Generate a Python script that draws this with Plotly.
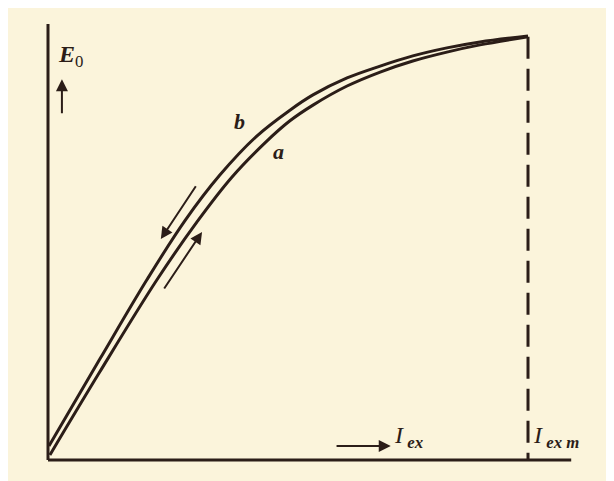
import plotly.graph_objects as go

# Excitation current (relative, % of I_ex m) and EMF E0 (relative, %)
iex_b = [0.2, 10.8, 20.6, 28.5, 35.8, 43.5, 50.4, 55.2, 62.3, 69.2, 76.0, 83.1, 90.0, 100]
e0_b = [3.3, 23.8, 42.5, 56.4, 67.2, 76.4, 82.5, 86.1, 90.1, 92.9, 95.3, 97.2, 98.6, 100]
iex_a = [0.4, 10.8, 22.7, 31.0, 38.3, 45.2, 50.4, 55.2, 62.3, 69.2, 76.0, 83.1, 90.0, 100]
e0_a = [1.2, 20.8, 42.5, 56.1, 66.7, 74.8, 80.0, 83.7, 88.2, 91.5, 94.1, 96.2, 97.9, 99.8]

INK = "#2b1d18"
BG = "#FBF4DB"
SERIF = "Liberation Serif, DejaVu Serif, serif"

fig = go.Figure()
for xs, ys in [(iex_b, e0_b), (iex_a, e0_a)]:
    fig.add_trace(go.Scatter(x=xs, y=ys, mode="lines",
                             line=dict(color=INK, width=3, shape="spline", smoothing=1.0),
                             hoverinfo="skip", showlegend=False))

# axes
fig.add_shape(type="line", x0=0, y0=0, x1=0, y1=102.8, line=dict(color=INK, width=3))
fig.add_shape(type="line", x0=0, y0=0, x1=109, y1=0, line=dict(color=INK, width=3))
# dashed line at I_ex m
fig.add_shape(type="line", x0=100, y0=99.8, x1=100, y1=0,
              line=dict(color=INK, width=3, dash="22px,10px"))

def arrow(x0, y0, x1, y1):
    fig.add_annotation(x=x1, y=y1, ax=x0, ay=y0, xref="x", yref="y", axref="x", ayref="y",
                       text="", showarrow=True, arrowhead=2, arrowsize=1.2,
                       arrowwidth=2, arrowcolor=INK)

arrow(31.0, 64.9, 23.5, 52.1)
arrow(24.0, 40.1, 32.1, 53.8)
arrow(59.8, 3.3, 71.4, 3.3)
arrow(2.9, 81.4, 2.9, 89.8)

def label(x, y, text, size=20):
    fig.add_annotation(x=x, y=y, xref="x", yref="y", text=text, showarrow=False,
                       xanchor="left", yanchor="middle",
                       font=dict(family=SERIF, size=size, color=INK))

label(1.6, 95.2, "<b><i>E</i></b><sub>0</sub>", 24)
label(38.4, 79.8, "<b><i>b</i></b>", 22)
label(46.4, 72.8, "<b><i>a</i></b>", 22)
label(71.6, 5.4, "<i>I</i><sub><b><i> ex</i></b></sub>", 24)
label(100.6, 5.4, "<i>I</i><sub><b><i> ex m</i></b></sub>", 24)

# page body has an 8px margin; ranges are set so the plot lands where the reference has it
fig.update_layout(
    width=614, height=481,
    margin=dict(l=0, r=0, t=0, b=0),
    paper_bgcolor=BG, plot_bgcolor=BG,
    xaxis=dict(range=[-8.333, 119.58], visible=False, fixedrange=True),
    yaxis=dict(range=[-6.84, 106.60], visible=False, fixedrange=True),
    hovermode=False,
)

fig.write_html("out.html", config={"displayModeBar": False})
